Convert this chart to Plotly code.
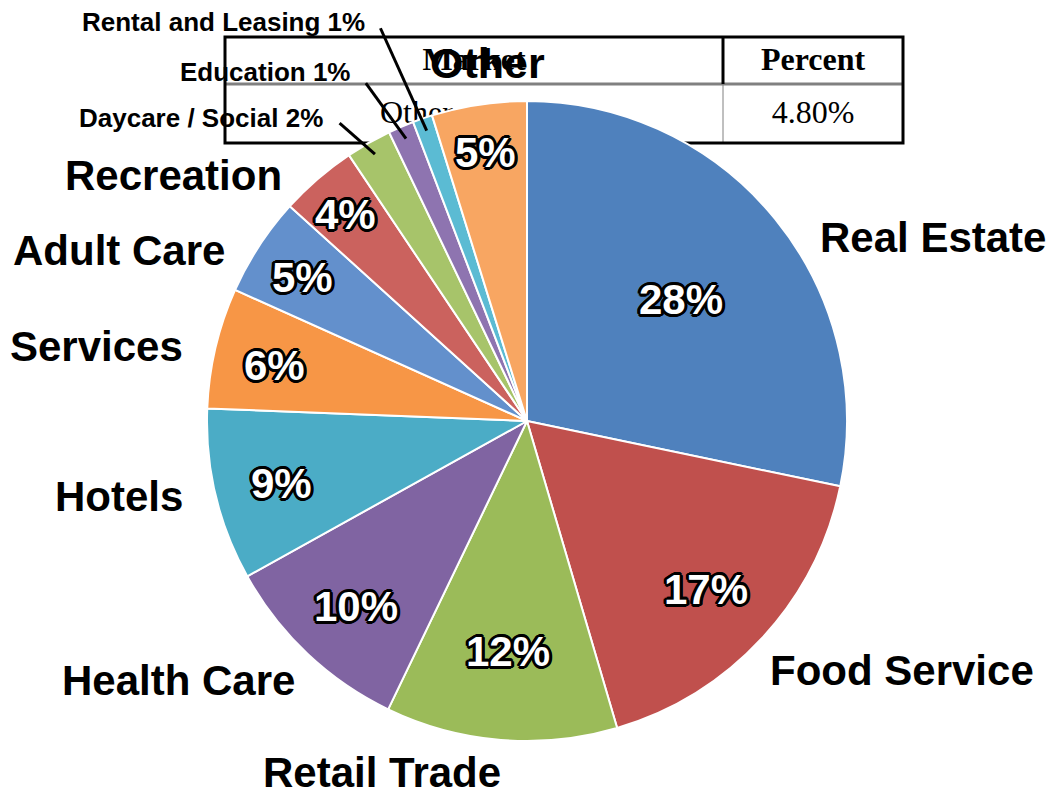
import math
import plotly.graph_objects as go

# ---------------- data ----------------
categories = ["Real Estate", "Food Service", "Retail Trade", "Health Care", "Hotels",
              "Services", "Adult Care", "Recreation", "Daycare / Social", "Education",
              "Rental and Leasing", "Other"]
shares = [28.3, 17.2, 11.7, 9.8, 8.7, 6.1, 5.0, 3.9, 2.3, 1.3, 1.0, 4.8]
table_header = ["Market", "Percent"]
table_row = ["Other", "4.80%"]
chart_title = "Other"

# ---------------- styles ----------------
colors = ["#4F81BD", "#C0504D", "#9BBB59", "#8064A2", "#4BACC6", "#F79646",
          "#6390CC", "#CB625E", "#A7C46A", "#8E74B0", "#5BBBD3", "#F8A662"]

W, H = 1056, 794
OFF = 8  # page body margin
CX, CY, R = 527, 421, 320

def px(x):
    return (x - OFF) / W

def py(y):
    return 1 - (y - OFF) / H

# label anchor positions (pixels) & anchors
label_pos = {
    "Real Estate": (818, 237, "left"),
    "Food Service": (768, 670, "left"),
    "Retail Trade": (382, 772, "center"),
    "Health Care": (297, 680, "right"),
    "Hotels": (185, 497, "right"),
    "Services": (185, 347, "right"),
    "Adult Care": (227, 251, "right"),
    "Recreation": (284, 175, "right"),
    "Daycare / Social": (325, 118, "right"),
    "Education": (352, 72, "right"),
    "Rental and Leasing": (367, 22, "right"),
}
# leader lines: (outer radius factor, outer angle offset in degrees)
small = {"Daycare / Social": (1.10, -2.5), "Education": (1.17, -2.3),
         "Rental and Leasing": (1.31, -1.4)}
pct_radius = [0.62, 0.76, 0.71, 0.78, 0.79, 0.81, 0.84, 0.87, None, None, None, 0.86]

outline = ", ".join(f"{a}px {b}px 0 #000" for a, b in
                    [(-2, -2), (2, -2), (-2, 2), (2, 2), (0, 2), (0, -2), (2, 0), (-2, 0),
                     (-3, 0), (3, 0), (0, 3), (0, -3), (-3, -1), (3, 1), (-1, 3), (1, -3)])

fig = go.Figure()

# table text drawn beneath the pie (cartesian layer)
fig.add_trace(go.Scatter(
    x=[474, 813], y=[62, 62], text=table_header, mode="text",
    textposition="middle center",
    textfont=dict(family="Liberation Serif", size=32, color="#000", weight="bold"),
    hoverinfo="skip", showlegend=False))
fig.add_trace(go.Scatter(
    x=[380], y=[115], text=[table_row[0]], mode="text", textposition="middle right",
    textfont=dict(family="Liberation Serif", size=32, color="#000"),
    hoverinfo="skip", showlegend=False))
fig.add_trace(go.Scatter(
    x=[813], y=[115], text=[table_row[1]], mode="text", textposition="middle center",
    textfont=dict(family="Liberation Serif", size=32, color="#000"),
    hoverinfo="skip", showlegend=False))

fig.add_trace(go.Pie(
    labels=categories, values=shares, sort=False, direction="clockwise", rotation=0,
    marker=dict(colors=colors, line=dict(color="#FFFFFF", width=2)),
    textinfo="none", showlegend=False,
    domain=dict(x=[px(CX - R), px(CX + R)], y=[py(CY + R), py(CY - R)]),
))

total = sum(shares)
annotations = []
shapes = []
cum = 0.0
for i, (cat, v) in enumerate(zip(categories, shares)):
    mid = (cum + v / 2) / total * 2 * math.pi
    cum += v
    # percentage labels
    if pct_radius[i] is not None:
        rr = pct_radius[i] * R
        annotations.append(dict(
            x=px(CX + rr * math.sin(mid)), y=py(CY - rr * math.cos(mid)),
            xref="paper", yref="paper", showarrow=False, yshift=-4,
            text=f"{round(v / total * 100):d}%",
            font=dict(family="Liberation Sans", size=42, color="#FFFFFF", weight="bold",
                      shadow=outline),
            xanchor="center", yanchor="middle"))
    if cat in label_pos:
        lx, ly, anc = label_pos[cat]
        if cat in small:
            txt = f"{cat} {round(v / total * 100):d}%"
            size = 26
            fac, dang = small[cat]
            r1, r2 = 0.96 * R, fac * R
            a2 = mid + math.radians(dang)
            shapes.append(dict(
                type="line", xref="paper", yref="paper",
                x0=px(CX + r1 * math.sin(mid)), y0=py(CY - r1 * math.cos(mid)),
                x1=px(CX + r2 * math.sin(a2)), y1=py(CY - r2 * math.cos(a2)),
                line=dict(color="#000000", width=3), layer="above"))
        else:
            txt = cat
            size = 42
        annotations.append(dict(
            x=px(lx), y=py(ly), xref="paper", yref="paper", showarrow=False,
            text=txt, xanchor=anc, yanchor="middle",
            font=dict(family="Liberation Sans", size=size, color="#000000", weight="bold")))

# title
annotations.append(dict(
    x=px(487), y=py(63), xref="paper", yref="paper", showarrow=False,
    text=chart_title, xanchor="center", yanchor="middle",
    font=dict(family="Liberation Sans", size=43, color="#000000", weight="bold")))

# table borders (below the pie)
shapes += [
    dict(type="line", xref="x", yref="y", x0=225, x1=903, y0=84, y1=84,
         line=dict(color="#808080", width=3), layer="below"),
    dict(type="line", xref="x", yref="y", x0=723, x1=723, y0=37, y1=84,
         line=dict(color="#000000", width=3), layer="below"),
    dict(type="line", xref="x", yref="y", x0=723, x1=723, y0=84, y1=143,
         line=dict(color="#808080", width=1), layer="below"),
    dict(type="rect", xref="x", yref="y", x0=225, x1=903, y0=37, y1=143,
         line=dict(color="#000000", width=3), layer="below"),
]

fig.update_layout(
    width=W, height=H, margin=dict(l=0, r=0, t=0, b=0),
    paper_bgcolor="#FFFFFF", plot_bgcolor="#FFFFFF",
    xaxis=dict(range=[OFF, W + OFF], visible=False, domain=[0, 1], fixedrange=True),
    yaxis=dict(range=[H + OFF, OFF], visible=False, domain=[0, 1], fixedrange=True),
    annotations=annotations, shapes=shapes, showlegend=False,
)

fig.write_html("out.html")
